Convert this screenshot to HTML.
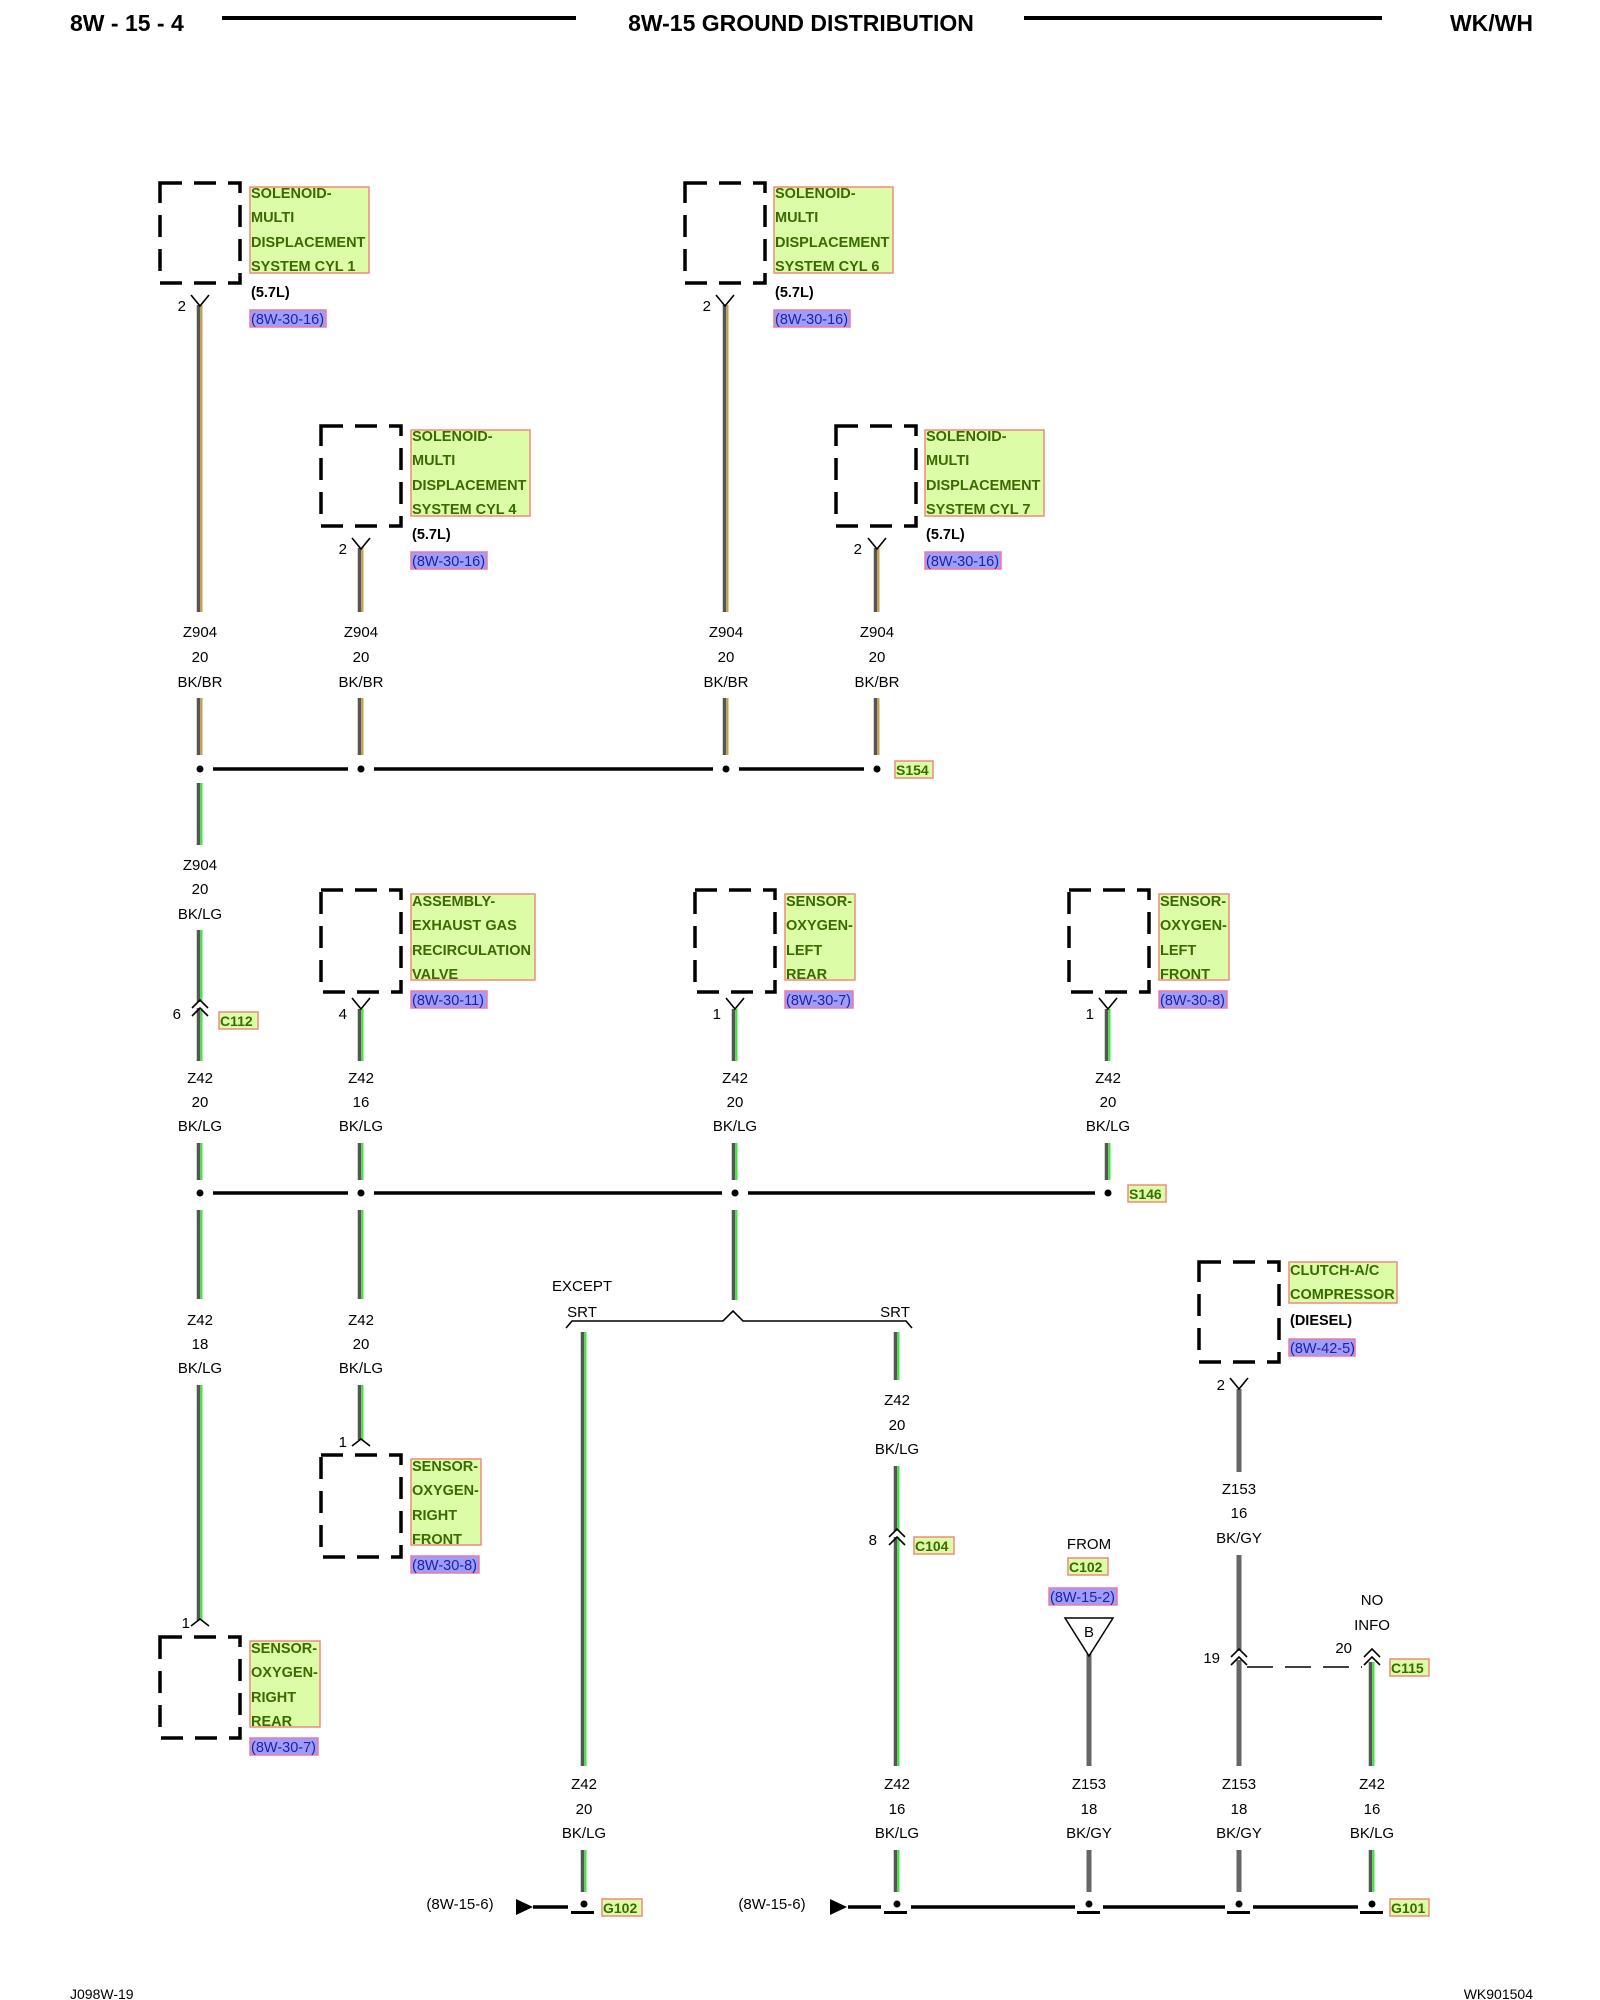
<!DOCTYPE html>
<html><head><meta charset="utf-8">
<style>
html,body{margin:0;padding:0;background:#fff;}
svg{display:block;}
.h{font-family:"Liberation Sans",sans-serif;font-weight:bold;font-size:23px;fill:#000;}
.t{font-family:"Liberation Sans",sans-serif;font-size:15px;fill:#000;}
.tb{font-family:"Liberation Sans",sans-serif;font-size:15px;font-weight:bold;fill:#000;}
.g{font-family:"Liberation Sans",sans-serif;font-size:14.5px;font-weight:bold;fill:#3a6b00;}
.r{font-family:"Liberation Sans",sans-serif;font-size:14.5px;fill:#2020a0;}
.lb{fill:#dcfca8;stroke:#f08a7a;stroke-width:1.5;}
.rb{fill:#9d9dff;stroke:#f07a9a;stroke-width:1.5;}
.bx{fill:none;stroke:#000;stroke-width:3.5;stroke-dasharray:22 12;}
.bus{stroke:#000;stroke-width:3.5;fill:none;}
.ch{stroke:#000;stroke-width:1.6;fill:none;}
</style></head>
<body>
<svg width="1600" height="2000" viewBox="0 0 1600 2000" xmlns="http://www.w3.org/2000/svg">
<!-- header -->
<text class="h" x="70" y="31">8W - 15 - 4</text>
<line x1="222" y1="18" x2="576" y2="18" stroke="#000" stroke-width="4"/>
<text class="h" x="801" y="31" text-anchor="middle">8W-15 GROUND DISTRIBUTION</text>
<line x1="1024" y1="18" x2="1382" y2="18" stroke="#000" stroke-width="4"/>
<text class="h" x="1533" y="31" text-anchor="end">WK/WH</text>

<g id="wires">
<!-- BK/BR Z904 -->
<g stroke="#555" stroke-width="3.5">
<line x1="198.5" y1="305" x2="198.5" y2="612"/><line x1="198.5" y1="698" x2="198.5" y2="755"/>
<line x1="359.5" y1="548" x2="359.5" y2="612"/><line x1="359.5" y1="698" x2="359.5" y2="755"/>
<line x1="724.5" y1="305" x2="724.5" y2="612"/><line x1="724.5" y1="698" x2="724.5" y2="755"/>
<line x1="875.5" y1="548" x2="875.5" y2="612"/><line x1="875.5" y1="698" x2="875.5" y2="755"/>
</g>
<g stroke="#c9a040" stroke-width="2">
<line x1="201.5" y1="305" x2="201.5" y2="612"/><line x1="201.5" y1="698" x2="201.5" y2="755"/>
<line x1="362.5" y1="548" x2="362.5" y2="612"/><line x1="362.5" y1="698" x2="362.5" y2="755"/>
<line x1="727.5" y1="305" x2="727.5" y2="612"/><line x1="727.5" y1="698" x2="727.5" y2="755"/>
<line x1="878.5" y1="548" x2="878.5" y2="612"/><line x1="878.5" y1="698" x2="878.5" y2="755"/>
</g>
<!-- BK/LG -->
<g stroke-width="3.5" stroke="#555">
<line x1="198.5" y1="783" x2="198.5" y2="845"/>
<line x1="198.5" y1="930" x2="198.5" y2="1002"/>
<line x1="198.5" y1="1008" x2="198.5" y2="1061"/>
<line x1="198.5" y1="1143" x2="198.5" y2="1180"/>
<line x1="198.5" y1="1210" x2="198.5" y2="1299"/>
<line x1="198.5" y1="1385" x2="198.5" y2="1620"/>
<line x1="359.5" y1="1009" x2="359.5" y2="1061"/>
<line x1="359.5" y1="1143" x2="359.5" y2="1180"/>
<line x1="359.5" y1="1210" x2="359.5" y2="1299"/>
<line x1="359.5" y1="1385" x2="359.5" y2="1440"/>
<line x1="733.5" y1="1009" x2="733.5" y2="1061"/>
<line x1="733.5" y1="1143" x2="733.5" y2="1180"/>
<line x1="733.5" y1="1210" x2="733.5" y2="1300"/>
<line x1="1106.5" y1="1009" x2="1106.5" y2="1061"/>
<line x1="1106.5" y1="1143" x2="1106.5" y2="1180"/>
<line x1="582.5" y1="1332" x2="582.5" y2="1766"/>
<line x1="582.5" y1="1850" x2="582.5" y2="1892"/>
<line x1="895.5" y1="1332" x2="895.5" y2="1380"/>
<line x1="895.5" y1="1466" x2="895.5" y2="1531"/>
<line x1="895.5" y1="1537" x2="895.5" y2="1766"/>
<line x1="895.5" y1="1850" x2="895.5" y2="1892"/>
<line x1="1370.5" y1="1662" x2="1370.5" y2="1766"/>
<line x1="1370.5" y1="1850" x2="1370.5" y2="1892"/>
</g>
<g stroke-width="2" stroke="#33ee33">
<line x1="201.5" y1="783" x2="201.5" y2="845"/>
<line x1="201.5" y1="930" x2="201.5" y2="1002"/>
<line x1="201.5" y1="1008" x2="201.5" y2="1061"/>
<line x1="201.5" y1="1143" x2="201.5" y2="1180"/>
<line x1="201.5" y1="1210" x2="201.5" y2="1299"/>
<line x1="201.5" y1="1385" x2="201.5" y2="1620"/>
<line x1="362.5" y1="1009" x2="362.5" y2="1061"/>
<line x1="362.5" y1="1143" x2="362.5" y2="1180"/>
<line x1="362.5" y1="1210" x2="362.5" y2="1299"/>
<line x1="362.5" y1="1385" x2="362.5" y2="1440"/>
<line x1="736.5" y1="1009" x2="736.5" y2="1061"/>
<line x1="736.5" y1="1143" x2="736.5" y2="1180"/>
<line x1="736.5" y1="1210" x2="736.5" y2="1300"/>
<line x1="1109.5" y1="1009" x2="1109.5" y2="1061"/>
<line x1="1109.5" y1="1143" x2="1109.5" y2="1180"/>
<line x1="585.5" y1="1332" x2="585.5" y2="1766"/>
<line x1="585.5" y1="1850" x2="585.5" y2="1892"/>
<line x1="898.5" y1="1332" x2="898.5" y2="1380"/>
<line x1="898.5" y1="1466" x2="898.5" y2="1531"/>
<line x1="898.5" y1="1537" x2="898.5" y2="1766"/>
<line x1="898.5" y1="1850" x2="898.5" y2="1892"/>
<line x1="1373.5" y1="1662" x2="1373.5" y2="1766"/>
<line x1="1373.5" y1="1850" x2="1373.5" y2="1892"/>
</g>
<!-- BK/GY -->
<g stroke="#666" stroke-width="5">
<line x1="1239" y1="1389" x2="1239" y2="1472"/>
<line x1="1239" y1="1555" x2="1239" y2="1651"/>
<line x1="1239" y1="1660" x2="1239" y2="1766"/>
<line x1="1239" y1="1850" x2="1239" y2="1892"/>
<line x1="1089" y1="1654" x2="1089" y2="1766"/>
<line x1="1089" y1="1850" x2="1089" y2="1892"/>
</g>
</g>

<!-- dashed component boxes -->
<rect class="bx" x="160" y="183" width="80" height="100"/>
<rect class="bx" x="685" y="183" width="80" height="100"/>
<rect class="bx" x="321" y="426" width="80" height="100"/>
<rect class="bx" x="836" y="426" width="80" height="100"/>
<rect class="bx" x="321" y="890" width="80" height="102"/>
<rect class="bx" x="695" y="890" width="80" height="102"/>
<rect class="bx" x="1069" y="890" width="80" height="102"/>
<rect class="bx" x="1199" y="1262" width="80" height="100"/>
<rect class="bx" x="321" y="1455" width="80" height="102"/>
<rect class="bx" x="160" y="1637" width="80" height="101"/>

<g class="ch">
<path d="M191 295 L200 306 L209 295"/>
<path d="M716 295 L725 306 L734 295"/>
<path d="M352 538 L361 549 L370 538"/>
<path d="M868 538 L877 549 L886 538"/>
<path d="M352 998 L361 1009 L370 998"/>
<path d="M726 998 L735 1009 L744 998"/>
<path d="M1099 998 L1108 1009 L1117 998"/>
<path d="M1230 1378 L1239 1389 L1248 1378"/>
<path d="M191 1626 L200 1619 L209 1626"/>
<path d="M352 1446 L361 1439 L370 1446"/>
<path d="M192 1008 L200 1000 L208 1008 M192 1016 L200 1008 L208 1016"/>
<path d="M889 1537 L897 1529 L905 1537 M889 1545 L897 1537 L905 1545"/>
<path d="M1231 1657 L1239 1649 L1247 1657 M1231 1665 L1239 1657 L1247 1665"/>
<path d="M1364 1657 L1372 1649 L1380 1657 M1364 1665 L1372 1657 L1380 1665"/>
</g>
<line x1="1247" y1="1667" x2="1362" y2="1667" stroke="#000" stroke-width="1.6" stroke-dasharray="26 12"/>

<g class="t" text-anchor="end">
<text x="186" y="311">2</text><text x="711" y="311">2</text>
<text x="347" y="554">2</text><text x="862" y="554">2</text>
<text x="181" y="1019">6</text><text x="347" y="1019">4</text>
<text x="721" y="1019">1</text><text x="1094" y="1019">1</text>
<text x="1225" y="1390">2</text>
<text x="877" y="1545">8</text>
<text x="1220" y="1663">19</text><text x="1352" y="1653">20</text>
<text x="347" y="1447">1</text><text x="190" y="1628">1</text>
</g>

<g>
<rect class="lb" x="250" y="187" width="119" height="86"/>
<text class="g" x="251" y="198">SOLENOID-</text><text class="g" x="251" y="222">MULTI</text><text class="g" x="251" y="247">DISPLACEMENT</text><text class="g" x="251" y="271">SYSTEM CYL 1</text>
<text class="tb" x="251" y="297" style="font-size:14.5px">(5.7L)</text>
<rect class="rb" x="250" y="310" width="76" height="17"/><text class="r" x="251" y="324">(8W-30-16)</text>

<rect class="lb" x="774" y="187" width="119" height="86"/>
<text class="g" x="775" y="198">SOLENOID-</text><text class="g" x="775" y="222">MULTI</text><text class="g" x="775" y="247">DISPLACEMENT</text><text class="g" x="775" y="271">SYSTEM CYL 6</text>
<text class="tb" x="775" y="297" style="font-size:14.5px">(5.7L)</text>
<rect class="rb" x="774" y="310" width="76" height="17"/><text class="r" x="775" y="324">(8W-30-16)</text>

<rect class="lb" x="411" y="430" width="119" height="86"/>
<text class="g" x="412" y="441">SOLENOID-</text><text class="g" x="412" y="465">MULTI</text><text class="g" x="412" y="490">DISPLACEMENT</text><text class="g" x="412" y="514">SYSTEM CYL 4</text>
<text class="tb" x="412" y="539" style="font-size:14.5px">(5.7L)</text>
<rect class="rb" x="411" y="552" width="76" height="17"/><text class="r" x="412" y="566">(8W-30-16)</text>

<rect class="lb" x="925" y="430" width="119" height="86"/>
<text class="g" x="926" y="441">SOLENOID-</text><text class="g" x="926" y="465">MULTI</text><text class="g" x="926" y="490">DISPLACEMENT</text><text class="g" x="926" y="514">SYSTEM CYL 7</text>
<text class="tb" x="926" y="539" style="font-size:14.5px">(5.7L)</text>
<rect class="rb" x="925" y="552" width="76" height="17"/><text class="r" x="926" y="566">(8W-30-16)</text>

<rect class="lb" x="411" y="894" width="124" height="86"/>
<text class="g" x="412" y="906">ASSEMBLY-</text><text class="g" x="412" y="930">EXHAUST GAS</text><text class="g" x="412" y="955">RECIRCULATION</text><text class="g" x="412" y="979">VALVE</text>
<rect class="rb" x="411" y="991" width="76" height="17"/><text class="r" x="412" y="1005">(8W-30-11)</text>

<rect class="lb" x="785" y="894" width="70" height="86"/>
<text class="g" x="786" y="906">SENSOR-</text><text class="g" x="786" y="930">OXYGEN-</text><text class="g" x="786" y="955">LEFT</text><text class="g" x="786" y="979">REAR</text>
<rect class="rb" x="785" y="991" width="68" height="17"/><text class="r" x="786" y="1005">(8W-30-7)</text>

<rect class="lb" x="1159" y="894" width="70" height="86"/>
<text class="g" x="1160" y="906">SENSOR-</text><text class="g" x="1160" y="930">OXYGEN-</text><text class="g" x="1160" y="955">LEFT</text><text class="g" x="1160" y="979">FRONT</text>
<rect class="rb" x="1159" y="991" width="68" height="17"/><text class="r" x="1160" y="1005">(8W-30-8)</text>

<rect class="lb" x="411" y="1459" width="70" height="86"/>
<text class="g" x="412" y="1471">SENSOR-</text><text class="g" x="412" y="1495">OXYGEN-</text><text class="g" x="412" y="1520">RIGHT</text><text class="g" x="412" y="1544">FRONT</text>
<rect class="rb" x="411" y="1556" width="68" height="17"/><text class="r" x="412" y="1570">(8W-30-8)</text>

<rect class="lb" x="250" y="1641" width="70" height="86"/>
<text class="g" x="251" y="1653">SENSOR-</text><text class="g" x="251" y="1677">OXYGEN-</text><text class="g" x="251" y="1702">RIGHT</text><text class="g" x="251" y="1726">REAR</text>
<rect class="rb" x="250" y="1738" width="68" height="17"/><text class="r" x="251" y="1752">(8W-30-7)</text>

<rect class="lb" x="1289" y="1262" width="108" height="41"/>
<text class="g" x="1290" y="1275">CLUTCH-A/C</text><text class="g" x="1290" y="1299">COMPRESSOR</text>
<text class="tb" x="1290" y="1325" style="font-size:14.5px">(DIESEL)</text>
<rect class="rb" x="1289" y="1339" width="66" height="17"/><text class="r" x="1290" y="1353">(8W-42-5)</text>
</g>

<g>
<rect class="lb" x="895" y="761" width="38" height="17"/><text class="g" x="896" y="775" style="font-size:14px">S154</text>
<rect class="lb" x="1128" y="1185" width="38" height="17"/><text class="g" x="1129" y="1199" style="font-size:14px">S146</text>
<rect class="lb" x="219" y="1012" width="39" height="17"/><text class="g" x="220" y="1026" style="font-size:14px">C112</text>
<rect class="lb" x="914" y="1537" width="40" height="17"/><text class="g" x="915" y="1551" style="font-size:14px">C104</text>
<rect class="lb" x="1068" y="1558" width="40" height="17"/><text class="g" x="1069" y="1572" style="font-size:14px">C102</text>
<rect class="lb" x="1390" y="1659" width="39" height="17"/><text class="g" x="1391" y="1673" style="font-size:14px">C115</text>
<rect class="lb" x="602" y="1899" width="40" height="17"/><text class="g" x="603" y="1913" style="font-size:14px">G102</text>
<rect class="lb" x="1390" y="1899" width="39" height="17"/><text class="g" x="1391" y="1913" style="font-size:14px">G101</text>
</g>

<g class="t" text-anchor="middle">
<text x="200" y="637">Z904</text><text x="200" y="662">20</text><text x="200" y="687">BK/BR</text>
<text x="361" y="637">Z904</text><text x="361" y="662">20</text><text x="361" y="687">BK/BR</text>
<text x="726" y="637">Z904</text><text x="726" y="662">20</text><text x="726" y="687">BK/BR</text>
<text x="877" y="637">Z904</text><text x="877" y="662">20</text><text x="877" y="687">BK/BR</text>
<text x="200" y="870">Z904</text><text x="200" y="894">20</text><text x="200" y="919">BK/LG</text>
<text x="200" y="1083">Z42</text><text x="200" y="1107">20</text><text x="200" y="1131">BK/LG</text>
<text x="361" y="1083">Z42</text><text x="361" y="1107">16</text><text x="361" y="1131">BK/LG</text>
<text x="735" y="1083">Z42</text><text x="735" y="1107">20</text><text x="735" y="1131">BK/LG</text>
<text x="1108" y="1083">Z42</text><text x="1108" y="1107">20</text><text x="1108" y="1131">BK/LG</text>
<text x="200" y="1325">Z42</text><text x="200" y="1349">18</text><text x="200" y="1373">BK/LG</text>
<text x="361" y="1325">Z42</text><text x="361" y="1349">20</text><text x="361" y="1373">BK/LG</text>
<text x="897" y="1405">Z42</text><text x="897" y="1430">20</text><text x="897" y="1454">BK/LG</text>
<text x="1239" y="1494">Z153</text><text x="1239" y="1518">16</text><text x="1239" y="1543">BK/GY</text>
<text x="584" y="1789">Z42</text><text x="584" y="1814">20</text><text x="584" y="1838">BK/LG</text>
<text x="897" y="1789">Z42</text><text x="897" y="1814">16</text><text x="897" y="1838">BK/LG</text>
<text x="1089" y="1789">Z153</text><text x="1089" y="1814">18</text><text x="1089" y="1838">BK/GY</text>
<text x="1239" y="1789">Z153</text><text x="1239" y="1814">18</text><text x="1239" y="1838">BK/GY</text>
<text x="1372" y="1789">Z42</text><text x="1372" y="1814">16</text><text x="1372" y="1838">BK/LG</text>
<text x="582" y="1291">EXCEPT</text><text x="582" y="1317">SRT</text>
<text x="895" y="1317">SRT</text>
<text x="1089" y="1549">FROM</text>
<text x="1372" y="1605">NO</text><text x="1372" y="1630">INFO</text>
<text x="460" y="1909">(8W-15-6)</text>
<text x="772" y="1909">(8W-15-6)</text>
</g>
<rect class="rb" x="1049" y="1588" width="68" height="17"/><text class="r" x="1050" y="1602">(8W-15-2)</text>
<path d="M1065 1618 L1113 1618 L1089 1656 Z" fill="#fff" stroke="#000" stroke-width="1.5"/>
<text class="t" x="1089" y="1637" text-anchor="middle">B</text>

<path d="M566 1328 L572 1321 L723 1321 L733 1311 L743 1321 L906 1321 L912 1328" fill="none" stroke="#000" stroke-width="1.6"/>

<g class="bus">
<line x1="213" y1="769" x2="348" y2="769"/><line x1="374" y1="769" x2="713" y2="769"/><line x1="739" y1="769" x2="864" y2="769"/>
<line x1="213" y1="1193" x2="348" y2="1193"/><line x1="374" y1="1193" x2="722" y2="1193"/><line x1="748" y1="1193" x2="1095" y2="1193"/>
<line x1="533" y1="1907" x2="568" y2="1907"/>
<line x1="848" y1="1907" x2="881" y2="1907"/><line x1="911" y1="1907" x2="1075" y2="1907"/><line x1="1103" y1="1907" x2="1225" y2="1907"/><line x1="1253" y1="1907" x2="1358" y2="1907"/>
</g>
<g fill="#000">
<circle cx="200" cy="769" r="3.5"/><circle cx="361" cy="769" r="3.5"/><circle cx="726" cy="769" r="3.5"/><circle cx="877" cy="769" r="3.5"/>
<circle cx="200" cy="1193" r="3.5"/><circle cx="361" cy="1193" r="3.5"/><circle cx="735" cy="1193" r="3.5"/><circle cx="1108" cy="1193" r="3.5"/>
<circle cx="584" cy="1904" r="3.5"/><circle cx="897" cy="1904" r="3.5"/><circle cx="1089" cy="1904" r="3.5"/><circle cx="1239" cy="1904" r="3.5"/><circle cx="1372" cy="1904" r="3.5"/>
<path d="M516 1899 L533 1907 L516 1915 Z"/><path d="M830 1899 L847 1907 L830 1915 Z"/>
<rect x="571" y="1911" width="23" height="3"/><rect x="884" y="1911" width="23" height="3"/><rect x="1077" y="1911" width="23" height="3"/><rect x="1227" y="1911" width="23" height="3"/><rect x="1360" y="1911" width="23" height="3"/>
</g>

<text class="t" x="70" y="1999" style="font-size:14px">J098W-19</text>
<text class="t" x="1533" y="1999" text-anchor="end" style="font-size:14px">WK901504</text>
</svg>
</body></html>
